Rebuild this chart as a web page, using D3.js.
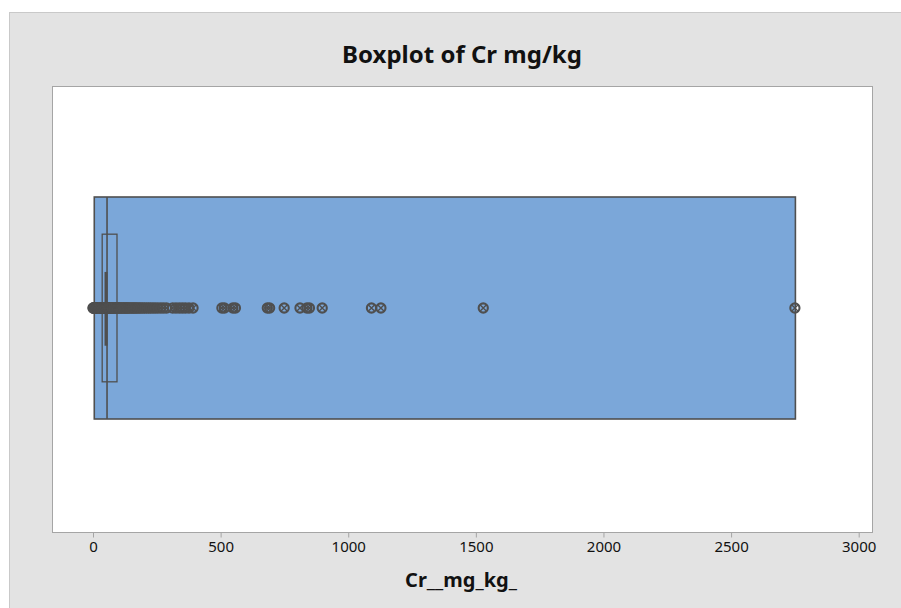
<!DOCTYPE html>
<html>
<head>
<meta charset="utf-8">
<script src="https://cdn.jsdelivr.net/npm/d3@7"></script>
<style>
  body { margin: 0; background: #fff; }
  svg text { font-family: "Noto Sans", "Open Sans", sans-serif; fill: #111; }
</style>
</head>
<body>
<svg id="chart" width="901" height="608"></svg>
<script>
// summary of the wide box (drawn filled)
var outerBox = {q1: 5, median: 55, q3: 2752};
// summary of the narrow box drawn inside it
var innerBox = {q1: 36, median: 51, q3: 94};

// individual Cr readings shown as symbols
var points = [0, 1, 2, 3, 4, 5, 6, 8, 10, 12, 14, 15, 17, 19, 20, 22, 24, 25, 27, 29,
  30, 32, 34, 35, 37, 39, 40, 42, 44, 45, 47, 49, 50, 52, 54, 55, 57, 59, 60, 62,
  64, 66, 68, 70, 72, 74, 76, 78, 80, 83, 86, 89, 92, 95, 98, 101, 104, 108, 112, 116,
  120, 124, 128, 132, 136, 140, 145, 150, 155, 160, 165, 170, 176, 182, 188, 195, 202,
  210, 218, 226, 235, 244, 254, 265, 276, 288, 312, 325, 338, 350, 362, 376, 392,
  505, 515, 548, 558, 683, 692, 749, 811, 838, 848, 898, 1091, 1128, 1529, 2750];

var tickVals = [0, 500, 1000, 1500, 2000, 2500, 3000];

var svg = d3.select("#chart");

// grey outer panel
svg.append("rect")
  .attr("x", 9.5).attr("y", 12.5)
  .attr("width", 900).attr("height", 600)
  .attr("fill", "#e3e3e3")
  .attr("stroke", "#c9c9c9");

var plot = {left: 52, top: 86, right: 872, bottom: 532};

svg.append("rect")
  .attr("x", plot.left + 0.5).attr("y", plot.top + 0.5)
  .attr("width", plot.right - plot.left).attr("height", plot.bottom - plot.top)
  .attr("fill", "#fff")
  .attr("stroke", "#a5a5a5");

var x = d3.scaleLinear().domain([0, 3000]).range([93, 858.7]);
// vertical position in box-height units, 0 = centre line
var y = d3.scaleLinear().domain([-1, 1]).range([419, 197]);

var g = svg.append("g");

// wide filled box
g.append("rect")
  .attr("x", x(outerBox.q1)).attr("y", y(1))
  .attr("width", x(outerBox.q3) - x(outerBox.q1))
  .attr("height", y(-1) - y(1))
  .attr("fill", "#7ba7d9")
  .attr("stroke", "#4f4f4f")
  .attr("stroke-width", 1.6);

g.append("line")
  .attr("x1", x(outerBox.median)).attr("x2", x(outerBox.median))
  .attr("y1", y(1)).attr("y2", y(-1))
  .attr("stroke", "#4f4f4f")
  .attr("stroke-width", 1.6);

// narrow box
g.append("rect")
  .attr("x", x(innerBox.q1)).attr("y", y(0.665))
  .attr("width", x(innerBox.q3) - x(innerBox.q1))
  .attr("height", y(-0.665) - y(0.665))
  .attr("fill", "none")
  .attr("stroke", "#4f4f4f")
  .attr("stroke-width", 1.3);

g.append("line")
  .attr("x1", x(innerBox.median)).attr("x2", x(innerBox.median))
  .attr("y1", y(0.325)).attr("y2", y(-0.34))
  .attr("stroke", "#4f4f4f")
  .attr("stroke-width", 3);

// point symbols: circle with a cross
var sym = g.selectAll("g.pt")
  .data(points)
  .enter().append("g")
  .attr("class", "pt")
  .attr("transform", function(d) { return "translate(" + x(d) + "," + y(0) + ")"; });

sym.append("circle")
  .attr("r", 4.6)
  .attr("fill", "none")
  .attr("stroke", "#4f4f4f")
  .attr("stroke-width", 2.1);

sym.append("path")
  .attr("d", "M-3,-3L3,3M3,-3L-3,3")
  .attr("stroke", "#4f4f4f")
  .attr("stroke-width", 1.4);

// x axis
var axis = d3.axisBottom(x)
  .tickValues(tickVals)
  .tickSize(5)
  .tickPadding(4)
  .tickFormat(d3.format("d"));

var ax = svg.append("g")
  .attr("transform", "translate(0," + (plot.bottom + 0.5) + ")")
  .call(axis);
ax.select(".domain").remove();
ax.selectAll(".tick line").attr("stroke", "#a5a5a5");
ax.selectAll(".tick text")
  .attr("font-size", 15)
  .style("font-family", "'Noto Sans', sans-serif")
  .attr("fill", "#111");

svg.append("text")
  .attr("x", 462).attr("y", 63)
  .attr("text-anchor", "middle")
  .attr("font-size", 24)
  .attr("font-weight", "bold")
  .text("Boxplot of Cr mg/kg");

svg.append("text")
  .attr("x", 461).attr("y", 587)
  .attr("text-anchor", "middle")
  .attr("font-size", 20)
  .attr("font-weight", "bold")
  .text("Cr__mg_kg_");
</script>
</body>
</html>
